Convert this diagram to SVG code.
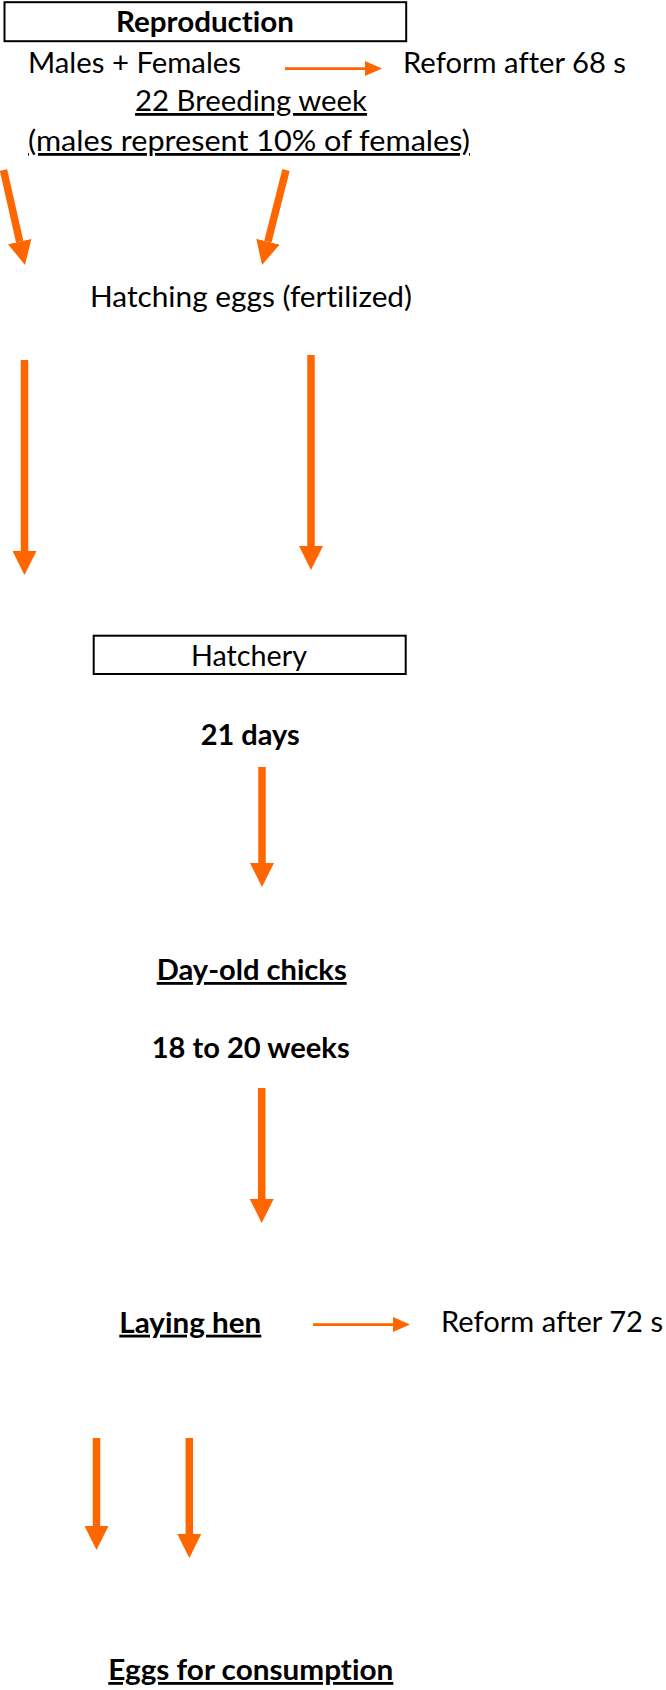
<svg xmlns="http://www.w3.org/2000/svg" width="666" height="1690" viewBox="0 0 666 1690">
  <style>
    .t { font-family: Lato, "Liberation Sans", sans-serif; font-size: 28px; fill: #000; font-variant-ligatures: none; }
    .b { font-weight: bold; }
    .u { text-decoration: underline; }
    .box { fill: #fff; stroke: #000; stroke-width: 2; }
    .thick { stroke: #FF6600; stroke-width: 7.5; fill: none; marker-end: url(#headBig); }
    .thin { stroke: #FF6600; stroke-width: 2.75; fill: none; marker-end: url(#headSmall); }
  </style>
  <defs>
    <marker id="headBig" markerUnits="userSpaceOnUse" markerWidth="24" markerHeight="24" refX="0" refY="12" orient="auto" viewBox="0 0 24 24">
      <path d="M0,0 L24,12 L0,24 Z" fill="#FF6600"/>
    </marker>
    <marker id="headSmall" markerUnits="userSpaceOnUse" markerWidth="17" markerHeight="15" refX="0" refY="7.5" orient="auto" viewBox="0 0 17 15">
      <path d="M0,0 L17,7.5 L0,15 Z" fill="#FF6600"/>
    </marker>
  </defs>
  <rect width="666" height="1690" fill="#fff"/>

  <g id="connectors">
    <line class="thin" x1="285" y1="68.5" x2="365" y2="68.5"/>
    <line class="thick" x1="3.5" y1="170" x2="19.7" y2="241.6"/>
    <line class="thick" x1="286" y1="170" x2="267.9" y2="241.7"/>
    <line class="thick" x1="24.5" y1="360" x2="24.5" y2="551"/>
    <line class="thick" x1="311" y1="355" x2="311" y2="546"/>
    <line class="thick" x1="262" y1="767" x2="262" y2="863"/>
    <line class="thick" x1="261.7" y1="1088" x2="261.7" y2="1199"/>
    <line class="thin" x1="313" y1="1324.5" x2="393" y2="1324.5"/>
    <line class="thick" x1="96.5" y1="1438" x2="96.5" y2="1526"/>
    <line class="thick" x1="189.3" y1="1438" x2="189.3" y2="1534"/>
  </g>

  <g id="reproduction">
    <rect class="box" x="4.5" y="2.2" width="401.7" height="39"/>
    <text class="t b" x="116" y="32" textLength="178" lengthAdjust="spacingAndGlyphs">Reproduction</text>
  </g>
  <g id="males-females">
    <text class="t" x="28" y="73" textLength="213" lengthAdjust="spacingAndGlyphs">Males + Females</text>
  </g>
  <g id="reform-68">
    <text class="t" x="403" y="73" textLength="223" lengthAdjust="spacingAndGlyphs">Reform after 68 s</text>
  </g>
  <g id="breeding-week">
    <text class="t u" x="135" y="111" textLength="232" lengthAdjust="spacingAndGlyphs">22 Breeding week</text>
    <text class="t u" x="28" y="151" textLength="442" lengthAdjust="spacingAndGlyphs">(males represent 10% of females)</text>
  </g>
  <g id="hatching-eggs">
    <text class="t" x="90" y="306.7" textLength="322" lengthAdjust="spacingAndGlyphs">Hatching eggs (fertilized)</text>
  </g>
  <g id="hatchery">
    <rect class="box" x="93.7" y="635.7" width="312" height="38.3"/>
    <text class="t" x="191" y="665.7" textLength="116" lengthAdjust="spacingAndGlyphs">Hatchery</text>
  </g>
  <g id="days-21">
    <text class="t b" x="200.7" y="745" textLength="99" lengthAdjust="spacingAndGlyphs">21 days</text>
  </g>
  <g id="day-old-chicks">
    <text class="t b u" x="156.7" y="980" textLength="190" lengthAdjust="spacingAndGlyphs">Day-old chicks</text>
  </g>
  <g id="weeks-18-20">
    <text class="t b" x="151.7" y="1058" textLength="198" lengthAdjust="spacingAndGlyphs">18 to 20 weeks</text>
  </g>
  <g id="laying-hen">
    <text class="t b u" x="119.3" y="1332.7" textLength="142" lengthAdjust="spacingAndGlyphs">Laying hen</text>
  </g>
  <g id="reform-72">
    <text class="t" x="441" y="1331.7" textLength="222" lengthAdjust="spacingAndGlyphs">Reform after 72 s</text>
  </g>
  <g id="eggs-consumption">
    <text class="t b u" x="108.3" y="1680" textLength="285" lengthAdjust="spacingAndGlyphs">Eggs for consumption</text>
  </g>
</svg>
